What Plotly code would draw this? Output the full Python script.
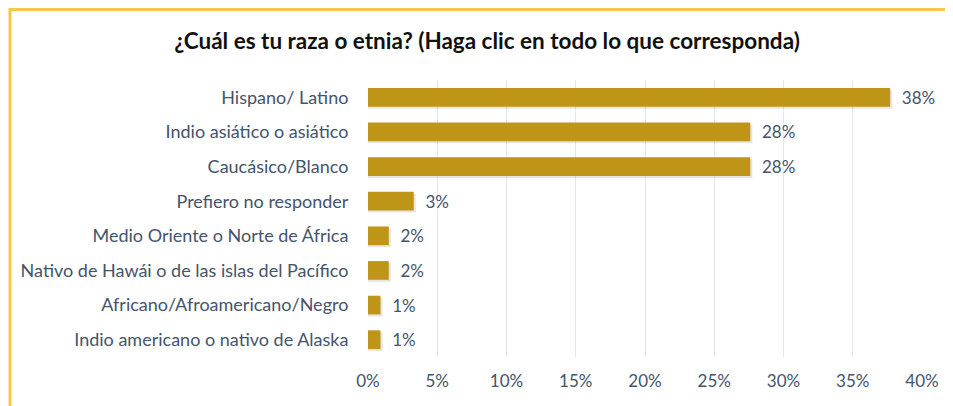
import plotly.graph_objects as go

categories = [
    "Hispano/ Latino",
    "Indio asiático o asiático",
    "Caucásico/Blanco",
    "Prefiero no responder",
    "Medio Oriente o Norte de África",
    "Nativo de Hawái o de las islas del Pacífico",
    "Africano/Afroamericano/Negro",
    "Indio americano o nativo de Alaska",
]
percent = [37.7, 27.6, 27.6, 3.3, 1.5, 1.5, 0.9, 0.9]
tick_vals = [0, 5, 10, 15, 20, 25, 30, 35, 40]
tick_text = ["0%", "5%", "10%", "15%", "20%", "25%", "30%", "35%", "40%"]

# page has an 8px body margin, so keep the figure inside the window
W, H = 937, 398
L, R, T, B = 360, 23, 72, 49
pw, ph = W - L - R, H - T - B

def px_x(p):
    return (p - L) / pw

def px_y(p):
    return (H - B - p) / ph

text_color = "#44546A"
font = "Lato, 'Open Sans', sans-serif"
border = "#F5C84C"
bar_w = 0.54

fig = go.Figure()

# soft drop shadow under each bar
fig.add_trace(go.Bar(
    y=categories,
    x=[v + 0.15 for v in percent],
    orientation="h",
    width=bar_w,
    offset=-bar_w / 2 + 0.06,
    marker=dict(color="rgba(0,0,0,0.10)", line=dict(width=0)),
    hoverinfo="skip",
))

fig.add_trace(go.Bar(
    y=categories,
    x=percent,
    orientation="h",
    width=bar_w,
    offset=-bar_w / 2,
    marker=dict(color="#BF9518", line=dict(width=0)),
    texttemplate="  %{x:.0f}%",
    textposition="outside",
    constraintext="none",
    textfont=dict(size=17, color=text_color, family=font),
    cliponaxis=False,
))

fig.update_layout(
    width=W, height=H,
    margin=dict(l=L, r=R, t=T, b=B),
    paper_bgcolor="white",
    plot_bgcolor="white",
    barmode="overlay",
    showlegend=False,
    title=dict(
        text="<b>¿Cuál es tu raza o etnia? (Haga clic en todo lo que corresponda)</b>",
        x=479 / W, xanchor="center", xref="container",
        y=1 - 33 / H, yanchor="middle", yref="container",
        font=dict(size=22.5, color="#111111", family=font),
    ),
    font=dict(family=font, color=text_color, size=18),
    # frame of the original slide: only its top and left edges are in view
    shapes=[
        dict(type="rect", xref="paper", yref="paper",
             x0=px_x(2), x1=px_x(W + 60), y0=px_y(1.5), y1=px_y(H + 60),
             fillcolor="rgba(0,0,0,0)", line=dict(color=border, width=3)),
    ],
)

fig.update_xaxes(
    range=[0, 40],
    tickvals=tick_vals,
    ticktext=tick_text,
    showgrid=True,
    gridcolor="#E3E7EC",
    gridwidth=1,
    zeroline=False,
    showline=False,
    ticks="outside",
    ticklen=9,
    tickcolor="rgba(0,0,0,0)",
    tickfont=dict(size=17, color=text_color, family=font),
    automargin=False,
)
fig.update_yaxes(
    autorange="reversed",
    showgrid=False,
    showline=False,
    ticks="outside",
    ticklen=15,
    tickcolor="rgba(0,0,0,0)",
    tickfont=dict(size=18, color=text_color, family=font),
    automargin=False,
)

fig.write_html("out.html")
